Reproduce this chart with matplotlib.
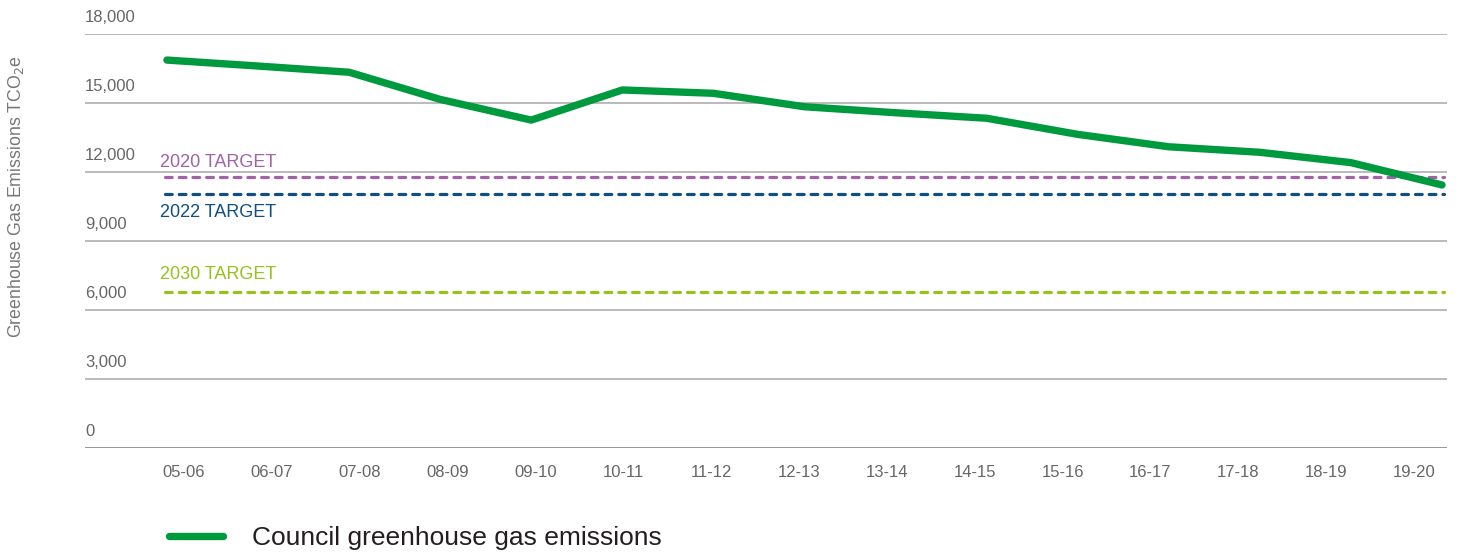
import matplotlib
matplotlib.use("Agg")
import matplotlib.pyplot as plt

plt.rcParams['font.family'] = ['Liberation Sans', 'DejaVu Sans']

years = ["05-06", "06-07", "07-08", "08-09", "09-10", "10-11", "11-12", "12-13",
         "13-14", "14-15", "15-16", "16-17", "17-18", "18-19", "19-20"]
emissions = [16880, 16620, 16350, 15170, 14270, 15580, 15435, 14850,
             14590, 14350, 13650, 13110, 12870, 12420, 11450]
target_names = ["2020 TARGET", "2022 TARGET", "2030 TARGET"]
target_values = [11790, 11040, 6810]
y_ticks = [0, 3000, 6000, 9000, 12000, 15000, 18000]

W, H = 1457, 554
fig = plt.figure(figsize=(W / 100, H / 100), dpi=100)
ax = fig.add_axes([85 / W, (H - 448.3) / H, (1447 - 85) / W, 414 / H])

green = '#009a3e'
target_colors = ['#a262a8', '#0f4f82', '#97c11f']
grid_color = '#b4b4b4'
tick_color = '#666666'

x = list(range(len(years)))
ax.set_xlim(-0.900, 14.055)
ax.set_ylim(0, 18000)

for v in y_ticks:
    ax.axhline(v, color='#8f8f8f' if v == 0 else grid_color, lw=1.3, zorder=1)
    ax.annotate(f"{v:,}", xy=(0, v), xycoords=('axes fraction', 'data'),
                xytext=(0, 8.5), textcoords='offset points', ha='left',
                va='baseline', fontsize=12, color=tick_color)

# targets
label_offsets = [7.2, -16.5, 9]
x0 = -0.02
for name, val, col, off in zip(target_names, target_values, target_colors, label_offsets):
    ax.plot([x0, 14.02], [val, val], color=col, lw=2.3,
            linestyle=(0, (2.1, 2.2)), dash_capstyle='round', zorder=2,
            clip_on=False)
    ax.annotate(name, xy=(x0, val), xycoords='data', xytext=(-3.5, off),
                textcoords='offset points', ha='left', va='baseline',
                fontsize=13, color=col)

line, = ax.plot(x, emissions, color=green, lw=5.3, solid_capstyle='round',
                solid_joinstyle='round', zorder=3,
                label='Council greenhouse gas emissions')

for s in ax.spines.values():
    s.set_visible(False)
ax.set_yticks([])
ax.set_xticks([])

# category labels axis
ax2 = ax.twiny()
ax2.set_xlim(-1.127, 14.375)
ax2.xaxis.set_ticks_position('bottom')
ax2.xaxis.set_label_position('bottom')
ax2.set_xticks(x)
ax2.set_xticklabels(years, fontsize=12, color=tick_color)
ax2.tick_params(axis='x', length=0, pad=12)
for s in ax2.spines.values():
    s.set_visible(False)

fig.text(16 / W, 1 - 196 / H, "Greenhouse Gas Emissions TCO$_2$e", rotation=90,
         ha='center', va='center', fontsize=12.8, color='#777777')

fig.legend(handles=[line], loc='center left',
           bbox_to_anchor=(168.6 / W, 1 - 538 / H), frameon=False,
           borderpad=0, borderaxespad=0, handlelength=2.05,
           handletextpad=1.1, fontsize=19, labelcolor='#231f20')

fig.savefig('out.png', dpi=100)
